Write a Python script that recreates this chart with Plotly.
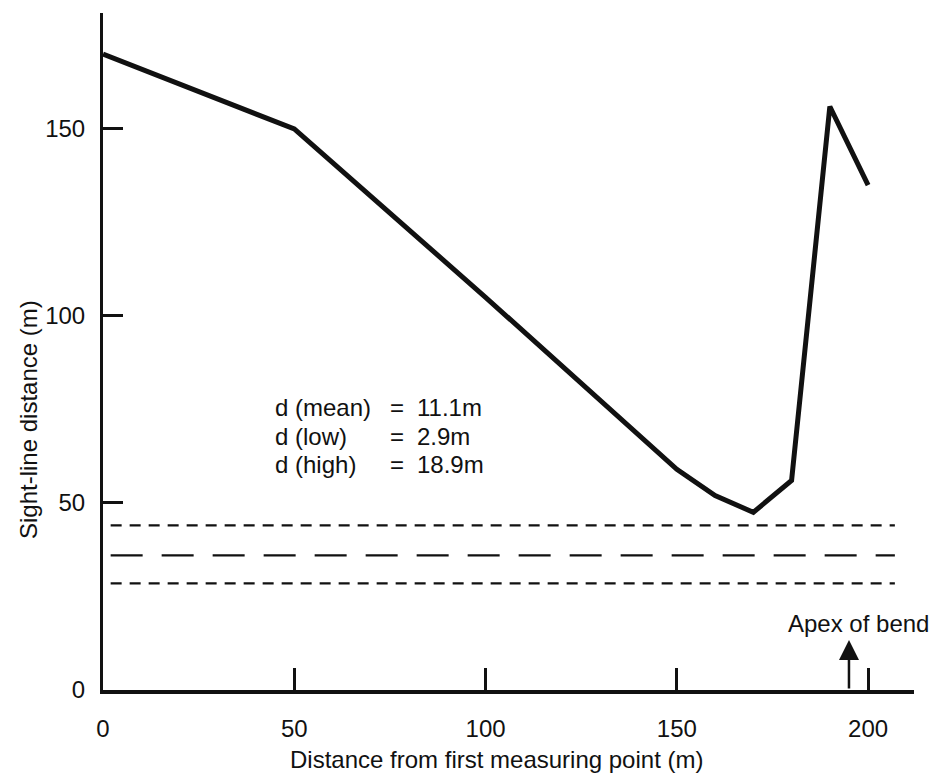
import plotly.graph_objects as go

# Sight-line distance measured along the approach to the bend
distance_m = [0, 50, 100, 150, 160, 170, 180, 190, 200]
sight_line_m = [170, 150, 105, 59, 52, 47.5, 56, 156, 135]

# Reference levels (high, mean, low) drawn as horizontal dashed lines
level_names = ["high", "mean", "low"]
level_values = [44, 36, 28.5]
level_span = [2, 207]

# Summary statistics printed inside the plot
stat_labels = ["d (mean)", "d (low)", "d (high)"]
stat_values = [11.1, 2.9, 18.9]

apex_x = 195

x_ticks = [0, 50, 100, 150, 200]
y_ticks = [0, 50, 100, 150]

FONT = "Liberation Sans, Arial, Helvetica, sans-serif"
INK = "#111111"
FS = 24

fig = go.Figure()

fig.add_trace(go.Scatter(
    x=distance_m, y=sight_line_m, mode="lines",
    line=dict(color=INK, width=5), hoverinfo="skip", showlegend=False,
))

dash_styles = {"high": "11px,8px", "mean": "32px,19px", "low": "11px,8px"}
for name, val in zip(level_names, level_values):
    fig.add_trace(go.Scatter(
        x=level_span, y=[val, val], mode="lines",
        line=dict(color=INK, width=2.3, dash=dash_styles[name]),
        hoverinfo="skip", showlegend=False,
    ))

# Statistics block: label, equals sign and value in three aligned columns
stat_y0, stat_dy = 75.4, 7.6
for i, (lab, val) in enumerate(zip(stat_labels, stat_values)):
    yy = stat_y0 - i * stat_dy
    fig.add_annotation(x=44.4, y=yy, xref="x", yref="y", text=lab,
                       showarrow=False, xanchor="left", yanchor="middle",
                       font=dict(family=FONT, size=FS, color=INK))
    fig.add_annotation(x=74.5, y=yy, xref="x", yref="y", text="=",
                       showarrow=False, xanchor="left", yanchor="middle",
                       font=dict(family=FONT, size=FS, color=INK))
    fig.add_annotation(x=81.5, y=yy, xref="x", yref="y", text=f"{val}m",
                       showarrow=False, xanchor="left", yanchor="middle",
                       font=dict(family=FONT, size=FS, color=INK))

# Apex marker: upward arrow from the axis
fig.add_annotation(x=apex_x, y=13.4, ax=apex_x, ay=0, xref="x", yref="y",
                   axref="x", ayref="y", text="", showarrow=True,
                   arrowhead=2, arrowsize=1.6, arrowwidth=2.5, arrowcolor=INK,
                   standoff=0, startstandoff=0)
fig.add_annotation(x=(931 - 103) / 811, y=(690 - 623) / 677, xref="paper",
                   yref="paper", text="Apex of bend", showarrow=False,
                   xanchor="right", yanchor="middle",
                   font=dict(family=FONT, size=FS, color=INK))

# Axis titles
fig.add_annotation(x=(496 - 103) / 811, y=(690 - 760) / 677, xref="paper",
                   yref="paper", text="Distance from first measuring point (m)",
                   showarrow=False, xanchor="center", yanchor="middle",
                   font=dict(family=FONT, size=FS, color=INK))
fig.add_annotation(x=(28 - 103) / 811, y=(690 - 420) / 677, xref="paper",
                   yref="paper", text="Sight-line distance (m)", textangle=-90,
                   showarrow=False, xanchor="center", yanchor="middle",
                   font=dict(family=FONT, size=FS, color=INK))

fig.update_layout(
    width=934, height=773,
    margin=dict(l=103, r=20, t=13, b=83),
    paper_bgcolor="white", plot_bgcolor="white",
    showlegend=False,
    font=dict(family=FONT, size=FS, color=INK),
)

fig.update_xaxes(
    range=[0, 212], tickmode="array", tickvals=x_ticks,
    ticktext=[str(v) for v in x_ticks],
    showline=True, linecolor=INK, linewidth=4,
    ticks="inside", ticklen=22, tickwidth=3, tickcolor=INK,
    ticklabelstandoff=14,
    showgrid=False, zeroline=False,
    tickfont=dict(family=FONT, size=FS, color=INK),
)
fig.update_yaxes(
    range=[0, 181], tickmode="array", tickvals=y_ticks,
    ticktext=[str(v) for v in y_ticks],
    showline=True, linecolor=INK, linewidth=3,
    ticks="inside", ticklen=20, tickwidth=3, tickcolor=INK,
    ticklabelstandoff=10,
    showgrid=False, zeroline=False,
    tickfont=dict(family=FONT, size=FS, color=INK),
)

fig.write_html("out.html")
